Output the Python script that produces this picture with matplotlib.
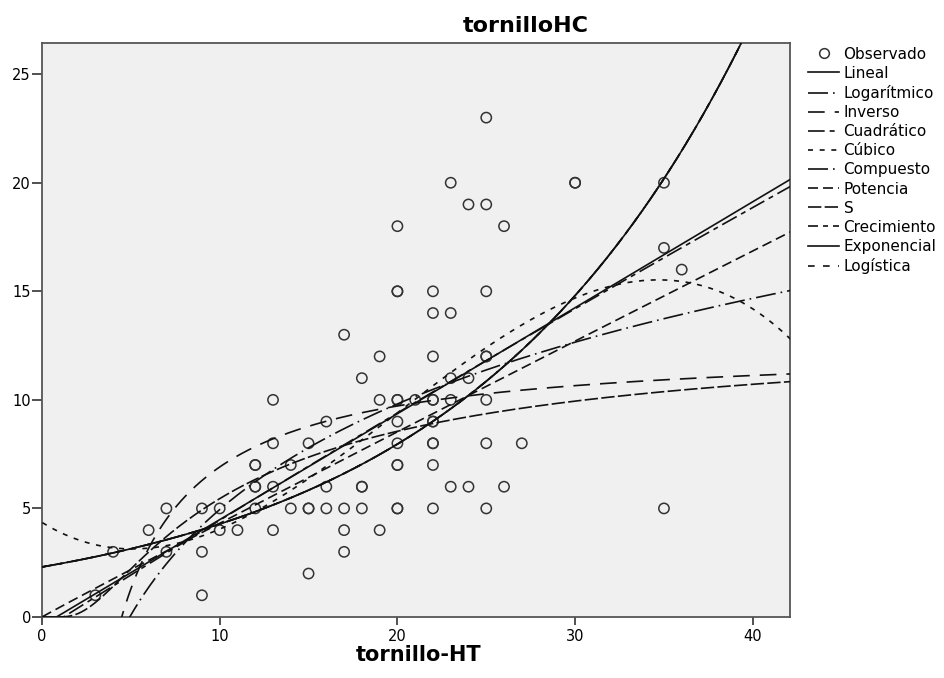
"""
tornilloHC vs tornillo-HT: observados y curvas de estimación (estilo SPSS)
"""

import numpy as np
import matplotlib
matplotlib.use("Agg")
import matplotlib.pyplot as plt
from matplotlib.lines import Line2D

plt.rcParams['font.family'] = ['DejaVu Sans']

ht = [3, 4, 6, 7, 7, 9, 9, 9, 10, 10, 11, 12, 12, 12, 12, 12,
      13, 13, 13, 13, 14, 14, 15, 15, 15, 15, 16, 16, 16,
      17, 17, 17, 17, 18, 18, 18, 18, 19, 19, 19,
      20, 20, 20, 20, 20, 20, 20, 20, 20, 20, 20,
      21, 22, 22, 22, 22, 22, 22, 22, 22, 22, 22, 22,
      23, 23, 23, 23, 23, 24, 24, 24,
      25, 25, 25, 25, 25, 25, 25, 25, 26, 26, 27, 30, 30, 35, 35, 35, 36]
hc = [1, 3, 4, 5, 3, 5, 3, 1, 5, 4, 4, 7, 7, 6, 6, 5,
      10, 8, 6, 4, 7, 5, 8, 5, 5, 2, 9, 6, 5,
      13, 5, 4, 3, 11, 6, 6, 5, 12, 10, 4,
      18, 15, 15, 10, 10, 9, 8, 7, 7, 5, 5,
      10, 15, 14, 12, 10, 10, 9, 9, 8, 8, 7, 5,
      20, 14, 11, 10, 6, 19, 11, 6,
      23, 19, 15, 12, 12, 10, 8, 5, 18, 6, 8, 20, 20, 20, 17, 5, 16]

modelos = ['Lineal', 'Logarítmico', 'Inverso', 'Cuadrático', 'Cúbico',
           'Compuesto', 'Potencia', 'S', 'Crecimiento', 'Exponencial',
           'Logística']
estilos = {
    'Lineal': '-',
    'Logarítmico': (0, (12, 3, 1, 3)),
    'Inverso': (0, (10, 6)),
    'Cuadrático': (0, (10, 3, 3, 3)),
    'Cúbico': (0, (3, 4)),
    'Compuesto': (0, (12, 3, 1, 3)),
    'Potencia': (0, (6, 3)),
    'S': (0, (8, 2)),
    'Crecimiento': (0, (6, 3, 3, 3)),
    'Exponencial': '-',
    'Logística': (0, (4, 5)),
}


def ajustar(x, y, xs):
    """Curvas de estimación como en SPSS (regresiones linealizadas)."""
    lx, ly = np.log(x), np.log(y)
    out = {}
    out['Lineal'] = np.polyval(np.polyfit(x, y, 1), xs)
    out['Logarítmico'] = np.polyval(np.polyfit(lx, y, 1), np.log(xs))
    out['Inverso'] = np.polyval(np.polyfit(1 / x, y, 1), 1 / xs)
    out['Cuadrático'] = np.polyval(np.polyfit(x, y, 2), xs)
    out['Cúbico'] = np.polyval(np.polyfit(x, y, 3), xs)
    expo = np.exp(np.polyval(np.polyfit(x, ly, 1), xs))
    out['Compuesto'] = expo
    out['Crecimiento'] = expo
    out['Exponencial'] = expo
    out['Logística'] = 1 / np.exp(np.polyval(np.polyfit(x, -ly, 1), xs))
    out['Potencia'] = np.exp(np.polyval(np.polyfit(lx, ly, 1), np.log(xs)))
    out['S'] = np.exp(np.polyval(np.polyfit(1 / x, ly, 1), 1 / xs))
    return out


def main():
    x = np.array(ht, dtype=float)
    y = np.array(hc, dtype=float)
    xs = np.linspace(0.02, 42.2, 1200)
    curvas = ajustar(x, y, xs)

    fig = plt.figure(figsize=(9.44, 6.78), dpi=100)
    ax = fig.add_axes([0.0445, 0.09, 0.7925, 0.847])
    ax.set_facecolor('#f0f0f0')

    ax.scatter(x, y, s=55, facecolors='none', edgecolors='#333333',
               linewidths=1.1, zorder=3)
    for m in modelos:
        ax.plot(xs, curvas[m], color='#111111', lw=1.2, ls=estilos[m],
                zorder=4)

    ax.set_xlim(0, 42.1)
    ax.set_ylim(0, 26.45)
    ax.set_xticks([0, 10, 20, 30, 40])
    ax.set_yticks([0, 5, 10, 15, 20, 25])
    ax.tick_params(axis='x', length=5.5, width=1.2, pad=3, labelsize=10.5,
                   color='#333333')
    ax.tick_params(axis='y', length=7, width=1.2, pad=1, labelsize=10.5,
                   color='#333333')
    for sp in ax.spines.values():
        sp.set_color('#555555')
        sp.set_linewidth(1.3)

    fig.text(0.557, 0.962, 'tornilloHC', ha='center', va='center',
             fontsize=16, fontweight='bold')
    fig.text(0.443, 0.034, 'tornillo-HT', ha='center', va='center',
             fontsize=15, fontweight='bold')

    handles = [Line2D([], [], ls='none', marker='o', markersize=7,
                      markerfacecolor='none', markeredgecolor='#333333',
                      markeredgewidth=1.1)]
    handles += [Line2D([], [], color='#111111', lw=1.2, ls=estilos[m])
                for m in modelos]
    fig.legend(handles, ['Observado'] + modelos, loc='upper left',
               bbox_to_anchor=(0.845, 0.947), frameon=False, fontsize=11,
               handlelength=2.0, handletextpad=0.3, labelspacing=0.27,
               borderpad=0.2)

    plt.savefig('out.png', dpi=100)


if __name__ == "__main__":
    main()
